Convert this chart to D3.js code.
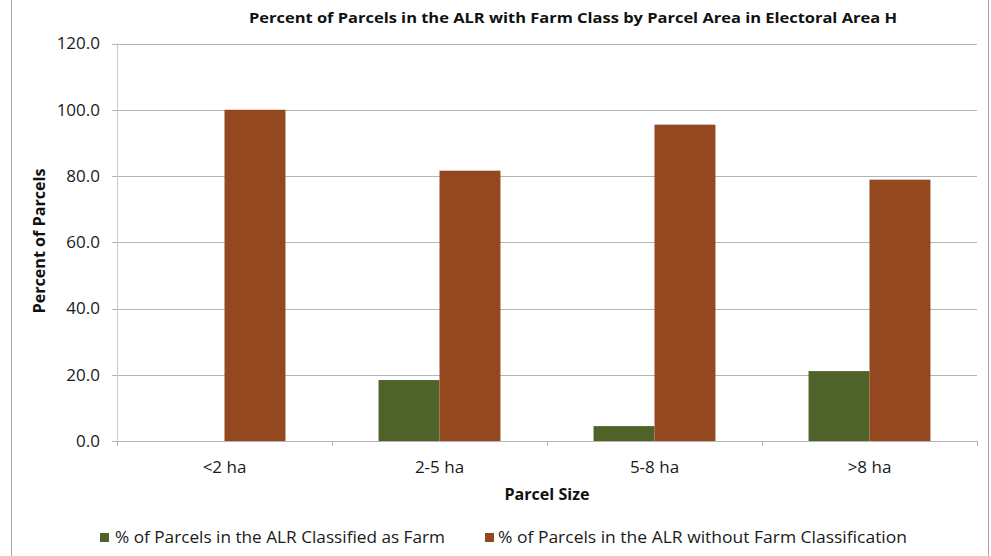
<!DOCTYPE html>
<html>
<head>
<meta charset="utf-8">
<script src="https://cdn.jsdelivr.net/npm/d3@7"></script>
<style>
  html, body { margin: 0; padding: 0; background: #fff; }
  svg { display: block; font-family: "Open Sans", "Noto Sans", sans-serif; }
</style>
</head>
<body>
<svg id="chart" width="991" height="556"></svg>
<script>
const categories = ["<2 ha", "2-5 ha", "5-8 ha", ">8 ha"];
const seriesNames = ["% of Parcels in the ALR Classified as Farm", "% of Parcels in the ALR without Farm Classification"];
const farmValues = [0.0, 18.4, 4.5, 21.1];
const nonFarmValues = [100.0, 81.6, 95.5, 78.9];
const yTicks = [0, 20, 40, 60, 80, 100, 120];
const colors = ["#4F6228", "#944820"];

const svg = d3.select("#chart");
const W = 991, H = 556;
const plot = { left: 117, right: 977, top: 43.5, bottom: 441 };

// frame lines
svg.append("line").attr("x1", 11.5).attr("x2", 11.5).attr("y1", 0).attr("y2", H).attr("stroke", "#a6a6a6").attr("stroke-width", 1);
svg.append("line").attr("x1", 988.5).attr("x2", 988.5).attr("y1", 0).attr("y2", H).attr("stroke", "#a6a6a6").attr("stroke-width", 1);

const y = d3.scaleLinear().domain([0, 120]).range([plot.bottom, plot.top]);
const x0 = d3.scaleBand().domain(categories).range([plot.left, plot.right]).paddingInner(0.433).paddingOuter(0.2165);
const x1 = d3.scaleBand().domain(seriesNames).range([0, x0.bandwidth()]);

// gridlines + y ticks
const yAxis = d3.axisLeft(y).tickValues(yTicks).tickSize(-(plot.right - plot.left) - 5).tickPadding(12).tickFormat(d3.format(".1f"));
const gy = svg.append("g").attr("transform", `translate(${plot.left},0)`).call(yAxis);
gy.select(".domain").remove();
gy.selectAll(".tick line").attr("x1", -5).attr("x2", plot.right - plot.left).attr("stroke", "#b4b4b4").attr("shape-rendering", "crispEdges");
gy.selectAll(".tick text").attr("font-size", 17).attr("fill", "#1a1a1a").attr("x", -17).attr("font-family", "'Open Sans', sans-serif");

// y axis line
svg.append("line").attr("x1", plot.left + 0.5).attr("x2", plot.left + 0.5).attr("y1", plot.top).attr("y2", plot.bottom + 5)
  .attr("stroke", "#c8c8c8").attr("stroke-width", 1);

// bars
const rows = categories.map((c, i) => ({ cat: c, vals: [farmValues[i], nonFarmValues[i]] }));
const groups = svg.append("g").selectAll("g").data(rows).join("g")
  .attr("transform", d => `translate(${x0(d.cat)},0)`);
groups.selectAll("rect").data(d => d.vals.map((v, k) => ({ v, k })))
  .join("rect")
  .attr("x", d => x1(seriesNames[d.k]))
  .attr("width", x1.bandwidth())
  .attr("y", d => y(d.v))
  .attr("height", d => y(0) - y(d.v))
  .attr("fill", d => colors[d.k]);

// x axis baseline and ticks
svg.append("line").attr("x1", plot.left).attr("x2", plot.right).attr("y1", plot.bottom + 0.5).attr("y2", plot.bottom + 0.5)
  .attr("stroke", "#b4b4b4");
const boundaries = categories.map(c => x0(c) - x0.step() * x0.paddingOuter()).concat([plot.right]);
svg.append("g").selectAll("line").data(boundaries).join("line")
  .attr("x1", d => Math.round(d) + 0.5).attr("x2", d => Math.round(d) + 0.5)
  .attr("y1", plot.bottom).attr("y2", plot.bottom + 5).attr("stroke", "#b4b4b4");

// x labels
svg.append("g").selectAll("text").data(categories).join("text")
  .attr("x", d => x0(d) + x0.bandwidth() / 2)
  .attr("y", 473)
  .attr("text-anchor", "middle")
  .attr("font-size", 17)
  .attr("fill", "#1a1a1a")
  .text(d => d);

// axis titles
svg.append("text").attr("x", 547).attr("y", 500).attr("text-anchor", "middle")
  .attr("font-size", 16).attr("font-weight", "bold").attr("fill", "#111")
  .attr("textLength", 85).attr("lengthAdjust", "spacingAndGlyphs").text("Parcel Size");
svg.append("text").attr("transform", "translate(45,241) rotate(-90)").attr("text-anchor", "middle")
  .attr("font-size", 16).attr("font-weight", "bold").attr("fill", "#111")
  .attr("textLength", 145).attr("lengthAdjust", "spacingAndGlyphs").text("Percent of Parcels");

// title
svg.append("text").attr("x", 573).attr("y", 23).attr("text-anchor", "middle")
  .attr("font-size", 15).attr("font-weight", "bold").attr("fill", "#111")
  .attr("textLength", 648).attr("lengthAdjust", "spacingAndGlyphs")
  .text("Percent of Parcels in the ALR with Farm Class by Parcel Area in Electoral Area H");

// legend
const legendItems = [
  { name: seriesNames[0], color: colors[0], sx: 100, tx: 115, tl: 330 },
  { name: seriesNames[1], color: colors[1], sx: 485, tx: 498, tl: 409 }
];
const lg = svg.append("g");
legendItems.forEach(it => {
  lg.append("rect").attr("x", it.sx).attr("y", 533).attr("width", 9).attr("height", 9).attr("fill", it.color);
  lg.append("text").attr("x", it.tx).attr("y", 543).attr("font-size", 16).attr("fill", "#1a1a1a")
    .attr("textLength", it.tl).attr("lengthAdjust", "spacingAndGlyphs").text(it.name);
});
</script>
</body>
</html>
